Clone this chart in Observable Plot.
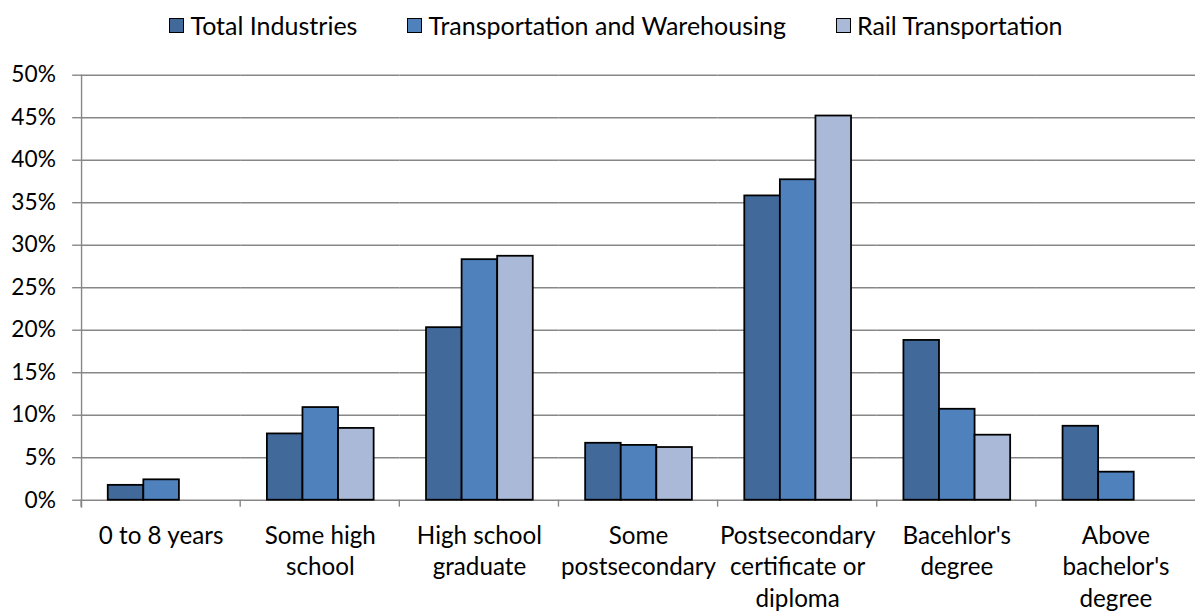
<!DOCTYPE html>
<html>
<head>
<meta charset="utf-8">
<script src="https://cdn.jsdelivr.net/npm/d3@7"></script>
<script src="https://cdn.jsdelivr.net/npm/@observablehq/plot@0.6"></script>
<style>
  html, body { margin: 0; padding: 0; background: #fff; overflow: hidden; width: 1196px; height: 612px; }
  #legend { height: 50px; display: flex; align-items: center; justify-content: center; gap: 50px;
            font-family: Lato, sans-serif; font-size: 25px; color: #000; padding-left: 36px; box-sizing: border-box; width: 1196px; }
  .item { display: flex; align-items: center; gap: 6px; white-space: nowrap; }
  .sw { width: 13px; height: 13px; border: 1.5px solid #000; }
</style>
</head>
<body>
<div id="legend"></div>
<div id="chart"></div>
<script>
const categories = [
  "0 to 8 years",
  "Some high\nschool",
  "High school\ngraduate",
  "Some\npostsecondary",
  "Postsecondary\ncertificate or\ndiploma",
  "Bacehlor's\ndegree",
  "Above\nbachelor's\ndegree"
];
const seriesNames = ["Total Industries", "Transportation and Warehousing", "Rail Transportation"];
const totalIndustries      = [1.75, 7.8, 20.3, 6.7, 35.8, 18.8, 8.7];
const transportWarehousing = [2.4, 10.9, 28.3, 6.45, 37.7, 10.7, 3.3];
const railTransportation   = [null, 8.45, 28.7, 6.2, 45.2, 7.65, null];
const yTicks = [0, 5, 10, 15, 20, 25, 30, 35, 40, 45, 50];
const seriesColors = ["#41699A", "#4F81BD", "#AAB9D7"];

const seriesValues = [totalIndustries, transportWarehousing, railTransportation];
const data = categories.flatMap((c, i) =>
  seriesNames.map((s, j) => ({category: c, series: s, value: seriesValues[j][i]}))
).filter(d => d.value != null);

// legend
const legend = document.getElementById("legend");
seriesNames.forEach((s, j) => {
  const item = document.createElement("div");
  item.className = "item";
  const sw = document.createElement("div");
  sw.className = "sw";
  sw.style.background = seriesColors[j];
  const t = document.createElement("span");
  t.textContent = s;
  item.appendChild(sw); item.appendChild(t);
  legend.appendChild(item);
});

const axisGray = "#878787";

function boundaryTicks(index, scales, values, dims) {
  const y0 = scales.y(0);
  const g = d3.create("svg:g");
  g.append("line")
    .attr("x1", dims.marginLeft).attr("x2", dims.marginLeft)
    .attr("y1", y0).attr("y2", y0 + 7)
    .attr("stroke", axisGray).attr("stroke-width", 1.4);
  return g.node();
}

const chart = Plot.plot({
  width: 1210,
  height: 562,
  marginTop: 25,
  marginBottom: 107,
  marginLeft: 82,
  marginRight: 1,
  style: {fontFamily: "Lato, sans-serif", fontSize: "23px", color: "#000", background: "#fff", overflow: "visible"},
  fx: {domain: categories, padding: 0, label: null},
  x: {domain: seriesNames, paddingInner: 0, paddingOuter: 0.736, axis: null},
  y: {domain: [0, 50], label: null},
  color: {domain: seriesNames, range: seriesColors},
  marks: [
    Plot.gridY(yTicks, {stroke: axisGray, strokeOpacity: 1, strokeWidth: 1.4}),
    Plot.axisY(yTicks, {tickFormat: d => d + "%", tickSize: 9, tickPadding: 17, stroke: axisGray, strokeWidth: 1.4, fill: "#000", fontSize: 23, label: null}),
    Plot.axisFx({anchor: "bottom", tickSize: 0, tickPadding: 21, lineHeight: 1.31, fontSize: 24.5, fill: "#000", label: null}),
    Plot.frame({anchor: "left", facetAnchor: "left", stroke: axisGray, strokeWidth: 1.4, insetBottom: -7}),
    boundaryTicks,
    Plot.barY(data, {fx: "category", x: "series", y: "value", fill: "series", stroke: "#000", strokeWidth: 1.8})
  ]
});
document.getElementById("chart").appendChild(chart);
</script>
</body>
</html>
